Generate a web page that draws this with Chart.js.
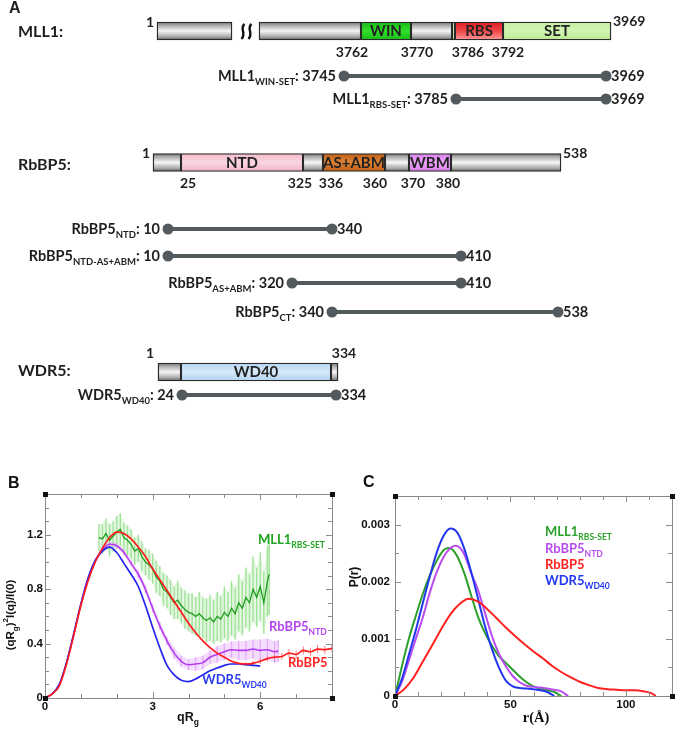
<!DOCTYPE html>
<html><head><meta charset="utf-8">
<script src="https://cdn.jsdelivr.net/npm/chart.js@4.4.1/dist/chart.umd.min.js"></script>
<style>
html,body{margin:0;padding:0;background:#fff;width:676px;height:731px;overflow:hidden}
canvas{position:absolute;display:block}
</style></head><body>
<canvas id="ca" width="676" height="470" style="left:0;top:0"></canvas>
<canvas id="cb" width="338" height="261" style="left:0;top:470px"></canvas>
<canvas id="cc" width="338" height="261" style="left:338px;top:470px"></canvas>
<script>
// ================= DATA =================
// ---- Panel A: residue numbers ----
const proteinNames = ['MLL1', 'RbBP5', 'WDR5'];
const proteinLengths = [3969, 538, 334];
const mll1DomainNames = ['WIN', 'RBS', 'SET'];
const mll1BoundaryLabels = [3762, 3770, 3786, 3792];
const rbbp5DomainNames = ['NTD', 'AS+ABM', 'WBM'];
const rbbp5BoundaryLabels = [25, 325, 336, 360, 370, 380];
const wdr5DomainNames = ['WD40'];
const constructProtein = ['MLL1', 'MLL1', 'RbBP5', 'RbBP5', 'RbBP5', 'RbBP5', 'WDR5'];
const constructSub = ['WIN-SET', 'RBS-SET', 'NTD', 'NTD-AS+ABM', 'AS+ABM', 'CT', 'WD40'];
const constructStart = [3745, 3785, 10, 10, 320, 340, 24];
const constructEnd = [3969, 3969, 340, 410, 410, 538, 334];

// ---- Panel B: dimensionless Kratky, (qRg)^2 I(q)/I(0) vs qRg ----
const bXTicks = [0, 3, 6];
const bYTicks = [0, 0.4, 0.8, 1.2];
const bYTickLabels = ['0', '0.4', '0.8', '1.2'];
const rbbp5Q = [0,0.2,0.4,0.6,0.8,1.0,1.2,1.4,1.6,1.8,2.0,2.2,2.4,2.6,2.8,3.0,3.2,3.4,3.6,3.8,4.0,4.2,4.4,4.6,4.8,5.0,5.2,5.4,5.6,5.8,6.0,6.2,6.4,6.6,6.8,7.0,7.2,7.4,7.6,7.8,8.0];
const rbbp5Kratky = [0,0.03,0.09,0.25,0.46,0.68,0.86,1.00,1.10,1.18,1.22,1.21,1.17,1.11,1.04,0.95,0.87,0.79,0.71,0.63,0.55,0.48,0.42,0.37,0.33,0.30,0.27,0.255,0.25,0.255,0.27,0.29,0.30,0.305,0.33,0.32,0.35,0.34,0.36,0.355,0.365];
const rbbp5KratkyErr = [0,0,0,0,0,0,0,0,0,0,0,0,0,0,0,0,0,0,0,0,0,0,0,0,0,0,0,0,0.015,0.02,0.02,0.02,0.025,0.025,0.03,0.03,0.03,0.03,0.03,0.03,0.03];
const wdr5Q = [0,0.2,0.4,0.6,0.8,1.0,1.2,1.4,1.6,1.8,2.0,2.2,2.4,2.6,2.8,3.0,3.2,3.4,3.6,3.8,4.0,4.2,4.4,4.6,4.8,5.0,5.2,5.4,5.6,5.8,6.0];
const wdr5Kratky = [0,0.03,0.10,0.26,0.47,0.69,0.88,1.01,1.08,1.11,1.07,0.99,0.91,0.82,0.68,0.52,0.37,0.24,0.17,0.13,0.12,0.14,0.17,0.20,0.22,0.24,0.25,0.25,0.245,0.24,0.235];
const ntdQ = [0,0.2,0.4,0.6,0.8,1.0,1.2,1.4,1.6,1.8,2.0,2.2,2.4,2.6,2.8,3.0,3.2,3.4,3.6,3.8,4.0,4.2,4.4,4.6,4.8,5.0,5.2,5.4,5.6,5.8,6.0,6.2,6.4,6.5];
const ntdKratky = [0,0.03,0.10,0.26,0.47,0.69,0.88,1.01,1.09,1.13,1.12,1.07,0.99,0.91,0.80,0.66,0.53,0.42,0.33,0.27,0.245,0.25,0.26,0.30,0.32,0.34,0.355,0.35,0.35,0.36,0.35,0.355,0.34,0.345];
const ntdKratkyErr = [0,0,0.01,0.01,0.01,0.01,0.01,0.02,0.02,0.02,0.02,0.02,0.02,0.03,0.03,0.03,0.03,0.03,0.04,0.04,0.04,0.05,0.05,0.05,0.06,0.06,0.06,0.07,0.07,0.07,0.08,0.08,0.08,0.08];
const mllQ = [1.5,1.6,1.7,1.8,1.9,2.0,2.1,2.2,2.3,2.4,2.5,2.6,2.7,2.8,2.9,3.0,3.1,3.2,3.3,3.4,3.5,3.6,3.7,3.8,3.9,4.0,4.1,4.2,4.3,4.4,4.5,4.6,4.7,4.8,4.9,5.0,5.1,5.2,5.3,5.4,5.5,5.6,5.7,5.8,5.9,6.0,6.1,6.2,6.25];
const mllKratky = [1.18,1.17,1.21,1.16,1.19,1.22,1.24,1.18,1.16,1.13,1.08,1.10,1.04,1.00,0.98,0.95,0.89,0.86,0.80,0.78,0.74,0.70,0.72,0.68,0.65,0.63,0.62,0.60,0.62,0.59,0.57,0.59,0.56,0.60,0.58,0.63,0.60,0.66,0.62,0.70,0.66,0.74,0.70,0.80,0.74,0.82,0.70,0.86,0.91];
const mllKratkyErr = [0.10,0.11,0.11,0.12,0.11,0.12,0.12,0.11,0.11,0.11,0.10,0.10,0.11,0.10,0.11,0.11,0.12,0.11,0.12,0.12,0.13,0.12,0.14,0.13,0.14,0.14,0.15,0.14,0.16,0.15,0.16,0.17,0.16,0.18,0.17,0.19,0.18,0.20,0.19,0.21,0.20,0.22,0.21,0.24,0.22,0.25,0.23,0.26,0.30];

// ---- Panel C: pair distance distribution P(r) (x1e-3) vs r (Å) ----
const cXTicks = [0, 50, 100];
const cYTicks = [0, 0.001, 0.002, 0.003];
const cYTickLabels = ['0', '0.001', '0.002', '0.003'];
const mllR = [0,3,6,9,12,15,18,21,23,25,27,30,33,36,39,42,45,48,51,54,57,60,63,66,69,72];
const mllPr = [0,0.52,1.00,1.40,1.78,2.10,2.36,2.55,2.59,2.56,2.44,2.15,1.76,1.38,1.10,0.88,0.70,0.58,0.46,0.34,0.24,0.17,0.13,0.10,0.07,0];
const ntdR = [0,3,6,9,12,15,18,21,24,26,28,30,33,36,39,42,45,48,51,54,57,60,63,66,69,72,75];
const ntdPr = [0,0.25,0.62,1.00,1.37,1.80,2.16,2.43,2.59,2.63,2.60,2.48,2.15,1.85,1.45,1.05,0.74,0.52,0.35,0.24,0.18,0.16,0.15,0.13,0.11,0.08,0];
const rbbp5R = [0,4,8,12,16,20,24,28,32,36,40,44,48,52,56,60,64,68,72,76,80,84,88,92,96,100,104,108,111,113];
const rbbp5Pr = [0,0.12,0.32,0.60,0.88,1.17,1.43,1.61,1.70,1.65,1.52,1.36,1.20,1.05,0.91,0.78,0.66,0.53,0.42,0.33,0.25,0.19,0.14,0.12,0.11,0.10,0.10,0.08,0.05,0];
const wdr5R = [0,3,6,9,12,15,18,21,24,27,30,33,36,39,42,45,48,51,54,57,60,63,66,69];
const wdr5Pr = [0,0.30,0.72,1.15,1.62,2.08,2.50,2.80,2.93,2.86,2.58,2.17,1.70,1.22,0.82,0.50,0.27,0.17,0.14,0.13,0.12,0.10,0.07,0];

// ================= LAYOUT (schematic, panel A) =================
const rowY = {MLL1: 31, RbBP5: 162.5, WDR5: 372};
const rowLabelY = {MLL1: 31.5, RbBP5: 165, WDR5: 371};
const segProtein = ['MLL1','MLL1','MLL1','MLL1','MLL1','MLL1','MLL1','RbBP5','RbBP5','RbBP5','RbBP5','RbBP5','RbBP5','RbBP5','WDR5','WDR5','WDR5'];
const segX0 = [157,259,361,411,452,455,503, 153,181,303,323,385,409,451, 158,181,331];
const segX1 = [232,361,411,452,455,503,611, 181,303,323,385,409,451,561, 181,331,338];
const segStyle = ['gray','gray','win','gray','set','rbs','set', 'gray','ntd','gray','asabm','gray','wbm','gray', 'gray','wd40','gray'];
const segText = [null,null,mll1DomainNames[0],null,null,mll1DomainNames[1],mll1DomainNames[2],
                 null,rbbp5DomainNames[0],null,rbbp5DomainNames[1],null,rbbp5DomainNames[2],null,
                 null,wdr5DomainNames[0],null];
const constructY = [76, 99, 229, 256, 283, 312, 395];
const constructX0 = [344, 456, 168, 168, 292, 332, 182];
const constructX1 = [606, 606, 332, 461, 461, 558, 336];
const mll1LabelX = [352, 417, 468, 508];
const rbbp5LabelX = [188, 300, 331, 375, 413, 448];

const palette = {
  gray: [[0,'#6c6c6c'],[0.18,'#ababab'],[0.5,'#f6f6f6'],[0.82,'#a9a9a9'],[1,'#5c5c5c']],
  win: [[0,'#16b816'],[0.5,'#33df2b'],[1,'#17bb17']],
  rbs: [[0,'#de1c22'],[0.5,'#ef4646'],[1,'#ff9a9a']],
  set: [[0,'#c5efa2'],[0.5,'#d2f5b4'],[1,'#b9e992']],
  ntd: [[0,'#f3b9c9'],[0.5,'#fad6e0'],[1,'#f1b4c5']],
  asabm: [[0,'#c15e16'],[0.5,'#df8437'],[1,'#bf5c16']],
  wbm: [[0,'#d981ec'],[0.5,'#eea6fa'],[1,'#d67ee9']],
  wd40: [[0,'#b5d5f2'],[0.5,'#d8eafb'],[1,'#b0d0f1']]
};

const SANS = 'Lato, "Open Sans", sans-serif';
const ARIAL = '"Liberation Sans", Arial, sans-serif';
const SERIF = '"Liberation Serif", "Times New Roman", serif';

function drawRich(ctx, parts, x, y, align, size, subSize, color, family) {
  ctx.save();
  ctx.fillStyle = color;
  ctx.textBaseline = 'middle';
  ctx.textAlign = 'left';
  let w = 0;
  const ws = parts.map(([t, k]) => {
    ctx.font = `bold ${k === 'n' ? size : subSize}px ${family}`;
    const m = ctx.measureText(t).width; w += m; return m;
  });
  let cx = align === 'right' ? x - w : align === 'center' ? x - w / 2 : x;
  parts.forEach(([t, k], i) => {
    ctx.font = `bold ${k === 'n' ? size : subSize}px ${family}`;
    const dy = k === 'sub' ? size * 0.38 : k === 'sup' ? -size * 0.42 : 0;
    ctx.fillText(t, cx, y + dy);
    cx += ws[i];
  });
  ctx.restore();
  return w;
}

// ================= PANEL A =================
const segData = segProtein.map((p, i) => ({x: [segX0[i], segX1[i]], y: rowY[p], style: segStyle[i], text: segText[i]}));

function barFill(c) {
  const chart = c.chart, raw = c.raw;
  if (!raw || !chart.chartArea || !chart.scales.y) return '#ccc';
  const py = chart.scales.y.getPixelForValue(raw.y);
  const g = chart.ctx.createLinearGradient(0, py - 9, 0, py + 9);
  palette[raw.style].forEach(([o, col]) => g.addColorStop(o, col));
  return g;
}

const constructDatasets = constructProtein.map((p, i) => ({
  type: 'line',
  data: [{x: constructX0[i], y: constructY[i]}, {x: constructX1[i], y: constructY[i]}],
  borderColor: '#535a5e', borderWidth: 4,
  pointRadius: 5.5, pointBackgroundColor: '#535a5e', pointBorderWidth: 0
}));

const textPluginA = {
  id: 'textA',
  afterDatasetsDraw(chart) {
    const ctx = chart.ctx, X = v => chart.scales.x.getPixelForValue(v), Y = v => chart.scales.y.getPixelForValue(v);
    const dark = '#1e1e1e';
    drawRich(ctx, [['A','n']], X(9), Y(9), 'left', 16, 10, dark, ARIAL);
    proteinNames.forEach(p => drawRich(ctx, [[p + ':', 'n']], X(18), Y(rowLabelY[p]), 'left', 16, 10, dark, SANS));
    drawRich(ctx, [['1','n']], X(150), Y(22), 'center', 14, 9, dark, SANS);
    drawRich(ctx, [[String(proteinLengths[0]),'n']], X(613), Y(21), 'left', 14, 9, dark, SANS);
    drawRich(ctx, [['1','n']], X(146), Y(153), 'center', 14, 9, dark, SANS);
    drawRich(ctx, [[String(proteinLengths[1]),'n']], X(563), Y(153), 'left', 14, 9, dark, SANS);
    drawRich(ctx, [['1','n']], X(150), Y(353), 'center', 14, 9, dark, SANS);
    drawRich(ctx, [[String(proteinLengths[2]),'n']], X(344), Y(353), 'center', 14, 9, dark, SANS);
    mll1BoundaryLabels.forEach((v, i) => drawRich(ctx, [[String(v),'n']], X(mll1LabelX[i]), Y(52), 'center', 14, 9, dark, SANS));
    rbbp5BoundaryLabels.forEach((v, i) => drawRich(ctx, [[String(v),'n']], X(rbbp5LabelX[i]), Y(183), 'center', 14, 9, dark, SANS));
    segData.forEach(s => { if (s.text) drawRich(ctx, [[s.text,'n']], X((s.x[0] + s.x[1]) / 2), Y(s.y + 0.5), 'center', 15, 10, '#222', SANS); });
    constructProtein.forEach((p, i) => {
      drawRich(ctx, [[p,'n'],[constructSub[i],'sub'],[': ' + constructStart[i],'n']], X(constructX0[i]) - 8, Y(constructY[i]), 'right', 14.5, 9.5, dark, SANS);
      drawRich(ctx, [[String(constructEnd[i]),'n']], X(constructX1[i]) + 5, Y(constructY[i]), 'left', 14.5, 9.5, dark, SANS);
    });
    ctx.save(); ctx.strokeStyle = '#111'; ctx.lineWidth = 2.4;
    [243, 250].forEach(bx => {
      const x0 = X(bx), yt = Y(24), yb = Y(39);
      ctx.beginPath(); ctx.moveTo(x0 + 1.5, yt);
      ctx.bezierCurveTo(x0 - 4, yt + 5, x0 + 4, yb - 6, x0 - 1.5, yb);
      ctx.stroke();
    });
    ctx.restore();
  }
};

new Chart(document.getElementById('ca'), {
  type: 'line',
  data: { datasets: [
    ...constructDatasets,
    { type: 'bar', indexAxis: 'y', data: segData, barThickness: 18, borderColor: '#2a2a2a', borderWidth: 1.4, borderSkipped: false, backgroundColor: barFill }
  ]},
  options: {
    responsive: false, animation: false, events: [],
    layout: {padding: 0, autoPadding: false},
    scales: {
      x: {type: 'linear', display: false, min: 0, max: 676, offset: false},
      y: {type: 'linear', display: false, min: 0, max: 470, reverse: true, offset: false}
    },
    plugins: {legend: {display: false}, tooltip: {enabled: false}}
  },
  plugins: [textPluginA]
});

// ================= PANELS B & C =================
const xy = (xs, ys, f) => xs.map((x, i) => ({x, y: f ? f(ys[i], i) : ys[i]}));

function framePlugin(cfg) {
  return {
    id: 'frame' + cfg.id,
    beforeDatasetsDraw(chart) {
      const {ctx, scales: {x, y}} = chart;
      (cfg.errorBars || []).forEach(eb => {
        ctx.save(); ctx.strokeStyle = eb.color; ctx.lineWidth = eb.width; ctx.beginPath();
        eb.q.forEach((q, i) => {
          const e = eb.e[i]; if (!e) return;
          const px = x.getPixelForValue(q);
          ctx.moveTo(px, y.getPixelForValue(eb.v[i] - e)); ctx.lineTo(px, y.getPixelForValue(eb.v[i] + e));
        });
        ctx.stroke(); ctx.restore();
      });
    },
    afterDraw(chart) {
      const {ctx, chartArea: a, scales: {x, y}} = chart;
      ctx.save();
      ctx.strokeStyle = '#8a8a8a'; ctx.lineWidth = 1;
      ctx.strokeRect(Math.round(a.left) + 0.5, Math.round(a.top) + 0.5, Math.round(a.right - a.left), Math.round(a.bottom - a.top));
      ctx.beginPath();
      const nx = Math.round((cfg.xMax - cfg.xMin) / cfg.xMinor);
      for (let k = 0; k <= nx; k++) {
        const v = cfg.xMin + k * cfg.xMinor, L = k % cfg.xEvery === 0 ? 6 : 4;
        const px = Math.round(x.getPixelForValue(v)) + 0.5;
        ctx.moveTo(px, a.bottom); ctx.lineTo(px, a.bottom - L);
        ctx.moveTo(px, a.top); ctx.lineTo(px, a.top + L);
      }
      const ny = Math.round((cfg.yMax - cfg.yMin) / cfg.yMinor);
      for (let k = 0; k <= ny; k++) {
        const v = cfg.yMin + k * cfg.yMinor, L = k % cfg.yEvery === 0 ? 6 : 4;
        const py = Math.round(y.getPixelForValue(v)) + 0.5;
        ctx.moveTo(a.left, py); ctx.lineTo(a.left + L, py);
        ctx.moveTo(a.right, py); ctx.lineTo(a.right - L, py);
      }
      ctx.stroke();
      ctx.fillStyle = '#111';
      [[a.left, a.top], [a.right, a.top], [a.left, a.bottom], [a.right, a.bottom]].forEach(([cx, cy]) => ctx.fillRect(Math.round(cx) - 2, Math.round(cy) - 2, 5, 5));
      ctx.restore();
      cfg.xTicks.forEach(v => drawRich(ctx, [[String(v),'n']], x.getPixelForValue(v), a.bottom + 9, 'center', 11.5, 8, '#111', ARIAL));
      cfg.yTicks.forEach((v, i) => drawRich(ctx, [[cfg.yTickLabels[i],'n']], a.left - cfg.yGap, y.getPixelForValue(v), 'right', 11.5, 8, '#111', ARIAL));
      cfg.texts(chart, ctx);
    }
  };
}

function lineDs(data, color, width, smooth) {
  return {data, borderColor: color, borderWidth: width, pointRadius: 0, fill: false, tension: smooth ? 0.4 : 0, cubicInterpolationMode: smooth ? 'monotone' : 'default'};
}
function bandDs(xs, ys, es, sign, color, fill) {
  return {data: xy(xs, ys, (v, i) => v + sign * es[i]), borderColor: 'rgba(0,0,0,0)', borderWidth: 0, pointRadius: 0, fill: fill ? '+1' : false, backgroundColor: color, tension: 0};
}

// ---- B ----
new Chart(document.getElementById('cb'), {
  type: 'line',
  data: { datasets: [
    lineDs(xy(rbbp5Q, rbbp5Kratky), '#ff1c1c', 1.7, true),
    lineDs(xy(wdr5Q, wdr5Kratky), '#2424ee', 1.7, true),
    lineDs(xy(ntdQ, ntdKratky), '#b43cf0', 1.6, true),
    lineDs(xy(mllQ, mllKratky), '#1c9c1c', 1.3, false),
    bandDs(ntdQ, ntdKratky, ntdKratkyErr, 1, 'rgba(225,160,250,0.35)', true),
    bandDs(ntdQ, ntdKratky, ntdKratkyErr, -1, null, false),
    bandDs(mllQ, mllKratky, mllKratkyErr, 1, 'rgba(150,225,140,0.25)', true),
    bandDs(mllQ, mllKratky, mllKratkyErr, -1, null, false)
  ]},
  options: {
    responsive: false, animation: false, events: [],
    layout: {padding: {left: 45, top: 24, right: 6, bottom: 33}, autoPadding: false},
    scales: { x: {type: 'linear', display: false, min: 0, max: 8}, y: {type: 'linear', display: false, min: 0, max: 1.5} },
    plugins: {legend: {display: false}, tooltip: {enabled: false}}
  },
  plugins: [framePlugin({
    id: 'B', xMin: 0, xMax: 8, xMinor: 1, xEvery: 3, yMin: 0, yMax: 1.5, yMinor: 0.1, yEvery: 4,
    xTicks: bXTicks, yTicks: bYTicks, yTickLabels: bYTickLabels, yGap: 2,
    errorBars: [
      {q: mllQ, v: mllKratky, e: mllKratkyErr, color: 'rgba(120,215,110,0.7)', width: 1.3},
      {q: ntdQ, v: ntdKratky, e: ntdKratkyErr, color: 'rgba(215,140,250,0.7)', width: 1.3},
      {q: rbbp5Q, v: rbbp5Kratky, e: rbbp5KratkyErr, color: 'rgba(255,90,90,0.8)', width: 1}
    ],
    texts(chart, ctx) {
      drawRich(ctx, [['B','n']], 8, 14, 'left', 16, 10, '#111', ARIAL);
      drawRich(ctx, [['qR','n'],['g','sub']], 188, 248, 'center', 12.5, 8.5, '#111', ARIAL);
      ctx.save(); ctx.translate(11, 145); ctx.rotate(-Math.PI / 2);
      drawRich(ctx, [['(qR','n'],['g','sub'],[')','n'],['2','sup'],['I(q)/I(0)','n']], 0, 0, 'center', 11.5, 8, '#111', ARIAL);
      ctx.restore();
      drawRich(ctx, [['MLL1','n'],['RBS-SET','sub']], 258, 70, 'left', 13, 8.5, '#22a322', SANS);
      drawRich(ctx, [['RbBP5','n'],['NTD','sub']], 269, 157, 'left', 13, 8.5, '#b545f0', SANS);
      drawRich(ctx, [['RbBP5','n']], 288, 193, 'left', 13, 8.5, '#ff2020', SANS);
      drawRich(ctx, [['WDR5','n'],['WD40','sub']], 202, 210, 'left', 13, 8.5, '#2a3cf0', SANS);
    }
  })]
});

// ---- C ----
new Chart(document.getElementById('cc'), {
  type: 'line',
  data: { datasets: [
    lineDs(xy(rbbp5R, rbbp5Pr.map(v => v / 1000)), '#ff2020', 2, true),
    lineDs(xy(wdr5R, wdr5Pr.map(v => v / 1000)), '#2236ee', 2, true),
    lineDs(xy(ntdR, ntdPr.map(v => v / 1000)), '#b84cf0', 2, true),
    lineDs(xy(mllR, mllPr.map(v => v / 1000)), '#2ca02c', 2, true)
  ]},
  options: {
    responsive: false, animation: false, events: [],
    layout: {padding: {left: 57, top: 26, right: 4, bottom: 35}, autoPadding: false},
    scales: { x: {type: 'linear', display: false, min: 0, max: 120}, y: {type: 'linear', display: false, min: 0, max: 0.0035} },
    plugins: {legend: {display: false}, tooltip: {enabled: false}}
  },
  plugins: [framePlugin({
    id: 'C', xMin: 0, xMax: 120, xMinor: 10, xEvery: 5, yMin: 0, yMax: 0.0035, yMinor: 0.0005, yEvery: 2,
    xTicks: cXTicks, yTicks: cYTicks, yTickLabels: cYTickLabels, yGap: 5,
    texts(chart, ctx) {
      drawRich(ctx, [['C','n']], 25, 13, 'left', 16, 10, '#111', ARIAL);
      drawRich(ctx, [['r(Å)','n']], 198, 248, 'center', 14.5, 9, '#111', SERIF);
      ctx.save(); ctx.translate(17, 107); ctx.rotate(-Math.PI / 2);
      drawRich(ctx, [['P(r)','n']], 0, 0, 'center', 12, 8, '#111', ARIAL);
      ctx.restore();
      drawRich(ctx, [['MLL1','n'],['RBS-SET','sub']], 207, 62, 'left', 13, 8.5, '#2ca02c', SANS);
      drawRich(ctx, [['RbBP5','n'],['NTD','sub']], 207, 79, 'left', 13, 8.5, '#b84cf0', SANS);
      drawRich(ctx, [['RbBP5','n']], 207, 95, 'left', 13, 8.5, '#ff2020', SANS);
      drawRich(ctx, [['WDR5','n'],['WD40','sub']], 207, 111, 'left', 13, 8.5, '#2236ee', SANS);
    }
  })]
});
</script>
</body></html>
